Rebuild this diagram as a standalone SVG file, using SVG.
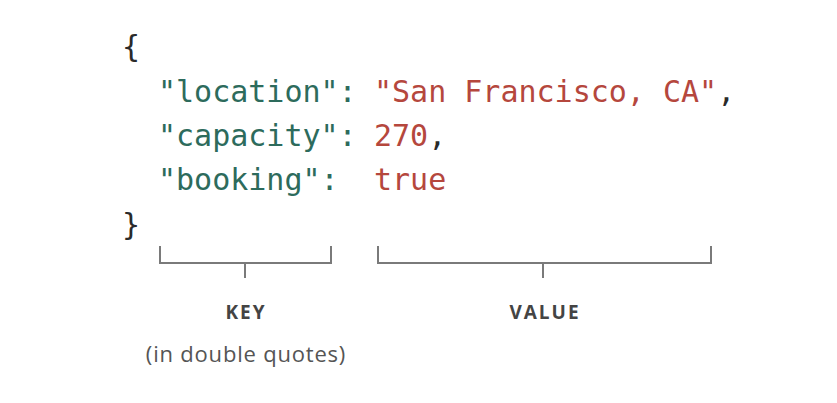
<svg xmlns="http://www.w3.org/2000/svg" width="837" height="403" viewBox="0 0 837 403">
<style>
.code{font-family:"DejaVu Sans Mono","Liberation Mono",monospace;font-size:30px}
.k{fill:#2d6b5c}
.v{fill:#b5473d}
.p{fill:#2a2a2a}
.br{fill:none;stroke:#7a7a7a;stroke-width:2}
.lab{font-family:"Open Sans","Liberation Sans",sans-serif;font-weight:700;font-size:19px;fill:#444;text-anchor:middle;letter-spacing:2px}
.sub{font-family:"Open Sans","Liberation Sans",sans-serif;font-size:22px;fill:#555;text-anchor:middle;letter-spacing:0.8px}
</style>
<rect width="837" height="403" fill="#ffffff"/>
<g id="code" class="code">
<text x="122" y="57" class="p">{</text>
<text x="158" y="102"><tspan class="k">"location":</tspan><tspan class="v" x="374">"San Francisco, CA"</tspan><tspan class="p">,</tspan></text>
<text x="158" y="146"><tspan class="k">"capacity":</tspan><tspan class="v" x="374">270</tspan><tspan class="p">,</tspan></text>
<text x="158" y="190"><tspan class="k">"booking":</tspan><tspan class="v" x="374">true</tspan></text>
<text x="122" y="235" class="p">}</text>
</g>
<g id="connectors">
<path class="br" d="M160 246 V263 H331 V246 M245 263 V278"/>
<path class="br" d="M378 246 V263 H711 V246 M543 263 V278"/>
</g>
<g id="key">
<text class="lab" x="246" y="319">KEY</text>
<text class="sub" x="246" y="362">(in double quotes)</text>
</g>
<g id="value">
<text class="lab" x="545" y="319">VALUE</text>
</g>
</svg>
